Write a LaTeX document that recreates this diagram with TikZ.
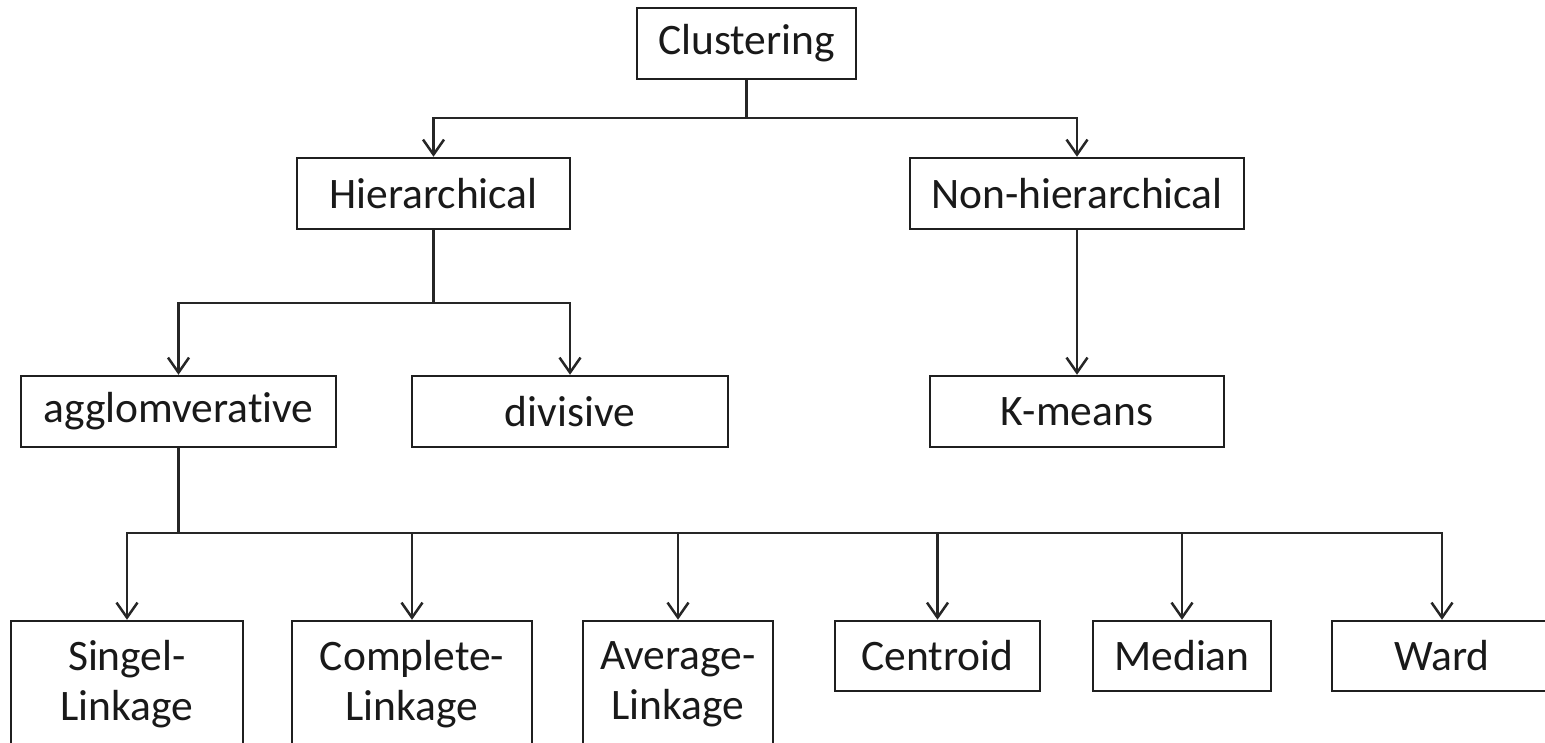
\documentclass[tikz,border=0pt]{standalone}
\usepackage{fontspec}
\setmainfont{Carlito}[Ligatures={NoCommon}]
\usetikzlibrary{arrows.meta}
\begin{document}
\begin{tikzpicture}[x=1pt,y=-1pt,
  box/.style={draw=black!88, line width=2.5pt, fill=white, inner sep=0pt,
    font=\fontsize{43.5}{50}\selectfont, text=black!90, align=center},
  conn/.style={draw=black!85, line width=2.5pt},
  arr/.style={conn, -{Straight Barb[length=15pt,width=21pt,line width=2.5pt]}}]
\fill[white] (0,0) rectangle (1545,742);
\useasboundingbox (0,0) rectangle (1545,742);
\clip (0,0) rectangle (1545,742);
% level 0
\node[box, minimum width=219pt, minimum height=71pt] (clu) at (746.5,43.5) {Clustering};
% level 1
\node[box, minimum width=273pt, minimum height=71pt] (hie) at (433.5,193.5) {Hierarchical};
\node[box, minimum width=334pt, minimum height=71pt] (non) at (1077,193.5) {Non-hierarchical};
% level 2
\node[box, minimum width=315pt, minimum height=71pt] (agg) at (178.5,411.5) {agglomverat\kern0pt ive};
\node[box, minimum width=316pt, minimum height=71pt] (div) at (570,411.5) {divisive};
\node[box, minimum width=294pt, minimum height=71pt] (km) at (1077,411.5) {K-means};
% level 3
\node[box, minimum width=232pt, minimum height=127pt] (sin) at (127,684.5) {Singel-\\Linkage};
\node[box, minimum width=240pt, minimum height=127pt] (com) at (412,684.5) {Complete-\\Linkage};
\node[box, minimum width=190pt, minimum height=127pt] (avg) at (678,684.5) {Average-\\Linkage};
\node[box, minimum width=205pt, minimum height=70pt] (cen) at (937.5,656) {Centroid};
\node[box, minimum width=178pt, minimum height=70pt] (med) at (1182,656) {Median};
\node[box, minimum width=220pt, minimum height=70pt] (war) at (1442,656) {Ward};
% junctions
\coordinate (j1) at (746.5,118);
\coordinate (j2) at (433.5,303);
\coordinate (j3) at (178.5,533);
% connectors
\draw[conn] (clu.south) -- (j1);
\draw[arr] (j1) -| (hie.north);
\draw[arr] (j1) -| (non.north);
\draw[conn] (hie.south) -- (j2);
\draw[arr] (j2) -| (agg.north);
\draw[arr] (j2) -| (div.north);
\draw[arr] (non.south) -- (km.north);
\draw[conn] (agg.south) -- (j3);
\draw[arr] (j3) -| (sin.north);
\draw[arr] (j3) -| (com.north);
\draw[arr] (j3) -| (avg.north);
\draw[arr] (j3) -| (cen.north);
\draw[arr] (j3) -| (med.north);
\draw[arr] (j3) -| (war.north);
\end{tikzpicture}
\end{document}
